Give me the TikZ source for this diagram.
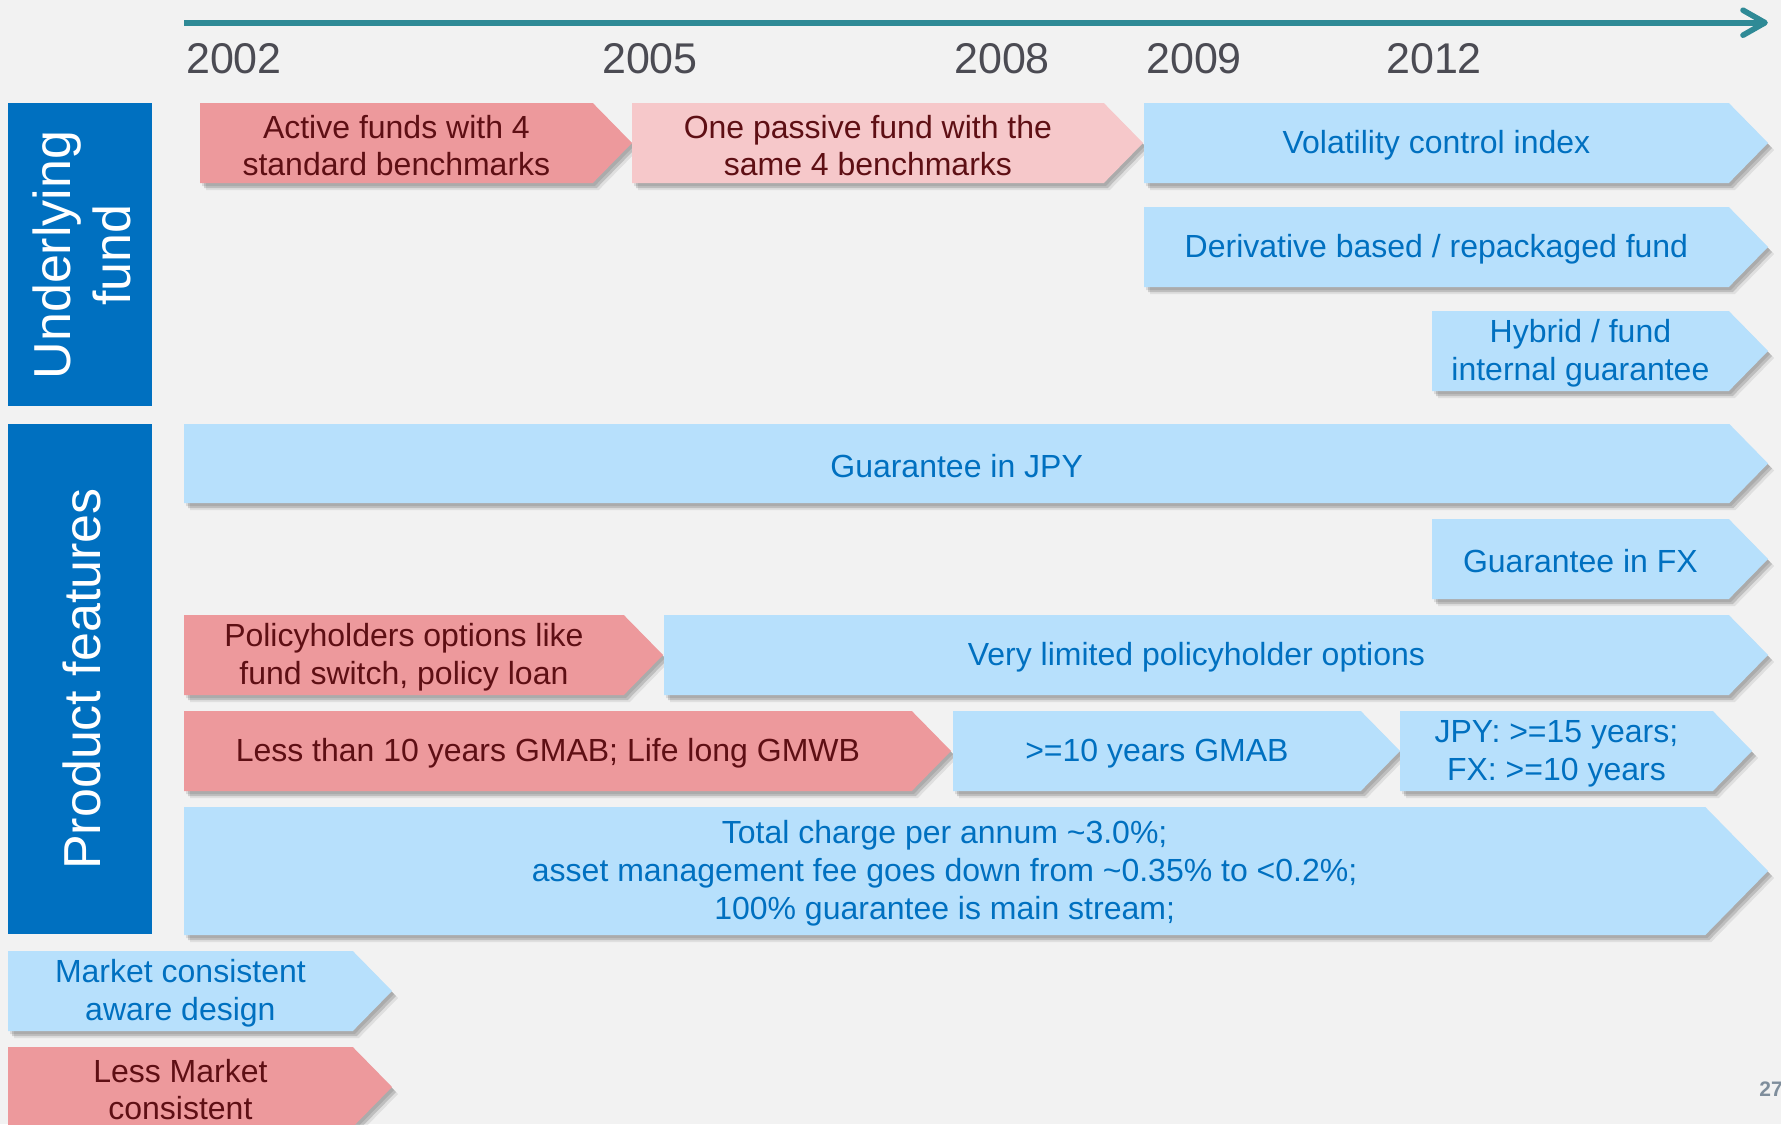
\documentclass[tikz,border=0pt]{standalone}
\usepackage{fontspec}
\setmainfont{Liberation Sans}
\usetikzlibrary{calc}

\definecolor{pagebg}{HTML}{F2F2F2}
\definecolor{axisteal}{HTML}{2F8A96}
\definecolor{yeargray}{HTML}{4B4B53}
\definecolor{sideblue}{HTML}{0070C0}
\definecolor{pinkbg}{HTML}{ED999C}
\definecolor{lpinkbg}{HTML}{F6C8CA}
\definecolor{pinkfg}{HTML}{5E0F14}
\definecolor{bluebg}{HTML}{B7E0FC}
\definecolor{bluefg}{HTML}{0070C0}
\definecolor{pagenum}{HTML}{7F8E9C}

\tikzset{
  boxtext/.style={font=\fontsize{16}{18.9}\selectfont, align=center, inner sep=0pt},
  yeartext/.style={font=\fontsize{21.5}{24}\selectfont, text=yeargray, inner sep=0pt},
  sidebox/.style={fill=sideblue},
  sidetext/.style={rotate=90, text=white, align=center, inner sep=0pt,
                   font=\fontsize{26}{30}\selectfont},
}

% arrow-shaped box: name, left x, top y, tip x, bottom y, fill, text colour, text
\newcommand\chev[8]{%
  \pgfmathsetmacro\chevd{0.49*(#5-#3)}%
  \pgfmathsetmacro\chevb{#4-\chevd}%
  \pgfmathsetmacro\chevm{(#3+#5)/2}%
  \pgfmathsetmacro\chevc{(#2+\chevb)/2}%
  \foreach \dx/\dy/\op in {2/3/0.10,4/5/0.14,6/7/0.08}{%
    \fill[black,opacity=\op,shift={(\dx,\dy)}]
      (#2,#3) -- (\chevb,#3) -- (#4,\chevm) -- (\chevb,#5) -- (#2,#5) -- cycle;}%
  \fill[#6] (#2,#3) -- (\chevb,#3) -- (#4,\chevm) -- (\chevb,#5) -- (#2,#5) -- cycle;
  \node[boxtext,text=#7] (#1) at (\chevc,\chevm+2.5) {#8};
}

\begin{document}
\begin{tikzpicture}[x=0.5pt,y=-0.5pt]
  \clip (0,0) rectangle (1781,1124);
  \fill[pagebg] (0,0) rectangle (1781,1124);

  % time axis
  \coordinate (axstart) at (184,22.7);
  \coordinate (axend) at (1765,22.7);
  \draw[axisteal, line width=2.8pt] (axstart) -- (axend);
  \draw[axisteal, line width=2.8pt, line cap=round, line join=round]
    ($(axend)+(-22,-12.5)$) -- (axend) -- ($(axend)+(-22,12.5)$);

  % years
  \node[yeartext] (y2002) at (234,58.5) {2002};
  \node[yeartext] (y2005) at (650,58.5) {2005};
  \node[yeartext] (y2008) at (1002,58.5) {2008};
  \node[yeartext] (y2009) at (1194,58.5) {2009};
  \node[yeartext] (y2012) at (1434,58.5) {2012};

  % side headers
  \fill[sidebox] (8,103) rectangle (152,406);
  \node[sidetext] (uf) at (82,255) {Underlying\\fund};
  \fill[sidebox] (8,424) rectangle (152,934);
  \node[sidetext] (pf) at (82,679) {Product features};

  % underlying fund rows
  \chev{active}{200}{103}{632}{183}{pinkbg}{pinkfg}{Active funds with 4\\standard benchmarks}
  \chev{passive}{632}{103}{1143}{183}{lpinkbg}{pinkfg}{One passive fund with the\\same 4 benchmarks}
  \chev{volctl}{1144}{103}{1768}{183}{bluebg}{bluefg}{Volatility control index}
  \chev{deriv}{1144}{207}{1768}{287}{bluebg}{bluefg}{Derivative based / repackaged fund}
  \chev{hybrid}{1432}{311}{1768}{391}{bluebg}{bluefg}{Hybrid / fund\\internal guarantee}

  % product feature rows
  \chev{gjpy}{184}{424}{1768}{503}{bluebg}{bluefg}{Guarantee in JPY}
  \chev{gfx}{1432}{519}{1768}{599}{bluebg}{bluefg}{Guarantee in FX}
  \chev{phopt}{184}{615}{663}{695}{pinkbg}{pinkfg}{Policyholders options like\\fund switch, policy loan}
  \chev{limopt}{664}{615}{1768}{695}{bluebg}{bluefg}{Very limited policyholder options}
  \chev{gmwb}{184}{711}{951}{791}{pinkbg}{pinkfg}{Less than 10 years GMAB; Life long GMWB}
  \chev{gmab}{953}{711}{1400}{791}{bluebg}{bluefg}{>=10 years GMAB}
  \chev{term}{1400}{711}{1752}{791}{bluebg}{bluefg}{JPY: >=15 years;\\FX: >=10 years}
  \chev{charge}{184}{807}{1768}{935}{bluebg}{bluefg}{Total charge per annum \textasciitilde 3.0\%;\\asset management fee goes down from \textasciitilde 0.35\% to <0.2\%;\\100\% guarantee is main stream;}

  % legend
  \chev{mcaware}{8}{951}{392}{1031}{bluebg}{bluefg}{Market consistent\\aware design}
  \chev{lessmc}{8}{1047}{392}{1127}{pinkbg}{pinkfg}{Less Market\\consistent}

  % page number
  \node[anchor=west, inner sep=0pt, text=pagenum, font=\bfseries\fontsize{10.5}{12}\selectfont] (pgno) at (1759,1089) {27};
\end{tikzpicture}
\end{document}
